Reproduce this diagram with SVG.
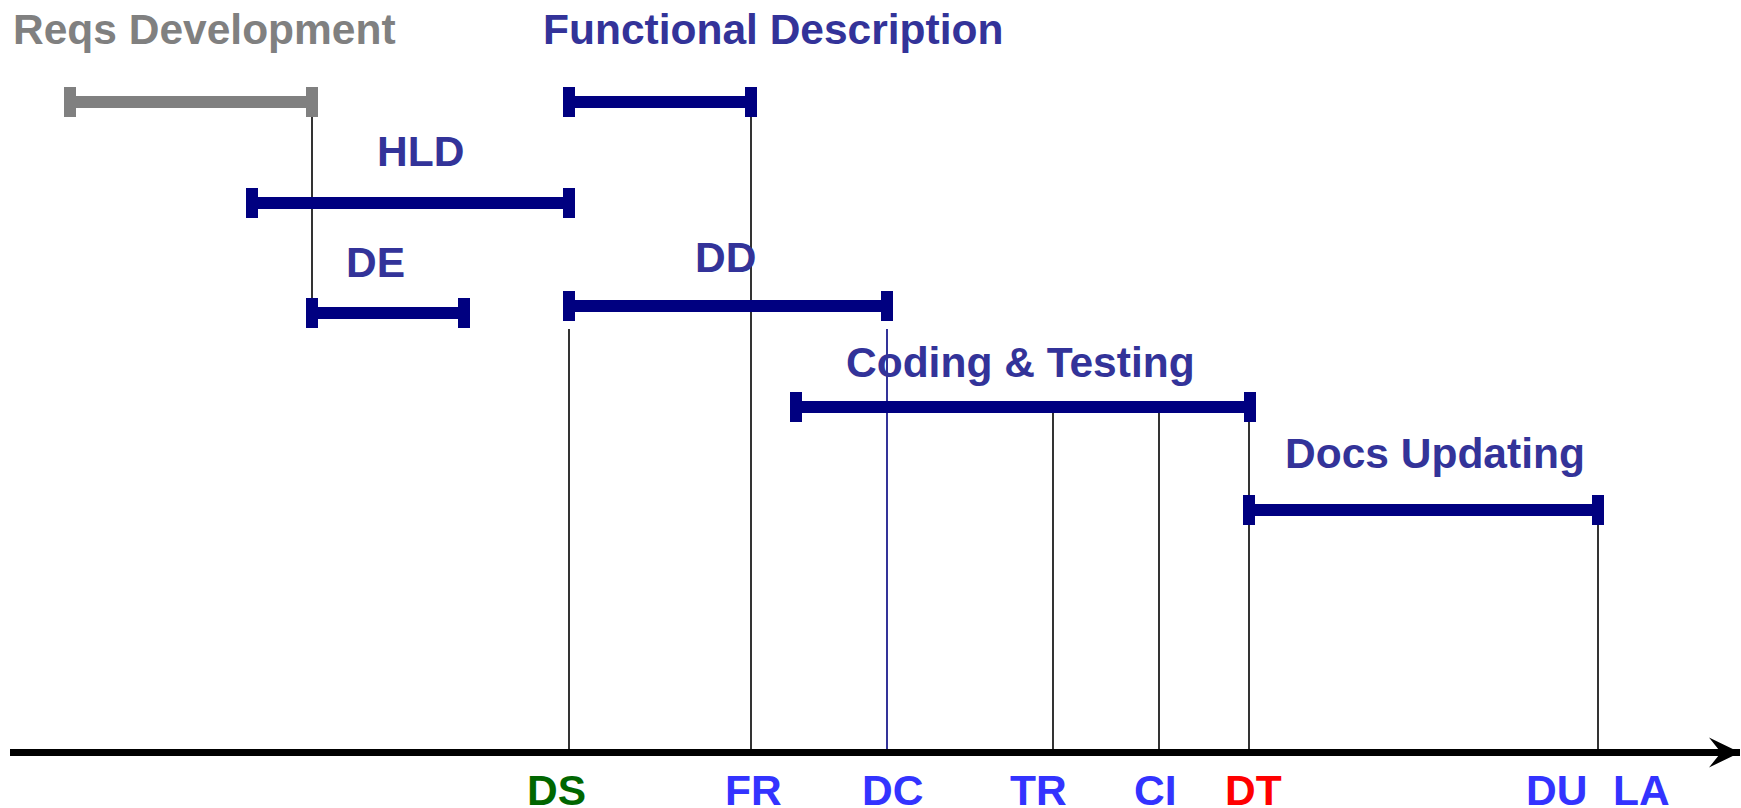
<svg xmlns="http://www.w3.org/2000/svg" width="1741" height="808" viewBox="0 0 1741 808">
<style>
text{font-family:"Liberation Sans",Arial,sans-serif;font-weight:bold;font-size:42.5px}
.lbl{fill:#333399}
.ax{fill:#3333FF}
.bar{fill:#000080}
.gray{fill:#808080}
.vl{stroke:#000;stroke-width:1.6;fill:none}
</style>
<defs>
<marker id="arr" markerUnits="userSpaceOnUse" markerWidth="32" markerHeight="32" refX="31" refY="16" orient="auto" viewBox="0 0 32 32">
<path d="M31,16 L0,1 L12,16 L0,31 Z" fill="#000"/>
</marker>
</defs>
<rect width="1741" height="808" fill="#fff"/>

<g id="connectors">
<line class="vl" x1="312" y1="117" x2="312" y2="313"/>
<line class="vl" x1="569" y1="329" x2="569" y2="752"/>
<line class="vl" x1="751" y1="108" x2="751" y2="752"/>
<line x1="887" y1="329" x2="887" y2="752" stroke="#000080" stroke-width="1.6"/>
<line class="vl" x1="1053" y1="407" x2="1053" y2="752"/>
<line class="vl" x1="1159" y1="407" x2="1159" y2="752"/>
<line class="vl" x1="1249" y1="407" x2="1249" y2="752"/>
<line class="vl" x1="1598" y1="510" x2="1598" y2="752"/>
<line id="axis" x1="10" y1="752.5" x2="1740" y2="752.5" stroke="#000" stroke-width="7" marker-end="url(#arr)"/>
</g>

<g id="reqs">
<rect class="gray" x="70" y="96" width="242" height="12"/>
<rect class="gray" x="64" y="87" width="12" height="30"/>
<rect class="gray" x="306" y="87" width="12" height="30"/>
<text x="13" y="44" fill="#808080">Reqs Development</text>
</g>

<g id="fd">
<rect class="bar" x="569" y="96" width="182" height="12"/>
<rect class="bar" x="563" y="87" width="12" height="30"/>
<rect class="bar" x="745" y="87" width="12" height="30"/>
<text class="lbl" x="543" y="44">Functional Description</text>
</g>

<g id="hld">
<rect class="bar" x="252" y="197" width="318" height="12"/>
<rect class="bar" x="246" y="188" width="12" height="30"/>
<rect class="bar" x="563" y="188" width="12" height="30"/>
<text class="lbl" x="377" y="166">HLD</text>
</g>

<g id="de">
<rect class="bar" x="312" y="307" width="152" height="12"/>
<rect class="bar" x="306" y="298" width="12" height="30"/>
<rect class="bar" x="458" y="298" width="12" height="30"/>
<text class="lbl" x="346" y="277">DE</text>
</g>

<g id="dd">
<rect class="bar" x="569" y="300" width="318" height="12"/>
<rect class="bar" x="563" y="291" width="12" height="30"/>
<rect class="bar" x="881" y="291" width="12" height="30"/>
<text class="lbl" x="695" y="272">DD</text>
</g>

<g id="ct">
<rect class="bar" x="796" y="401" width="454" height="12"/>
<rect class="bar" x="790" y="392" width="12" height="30"/>
<rect class="bar" x="1244" y="392" width="12" height="30"/>
<text class="lbl" x="846" y="377">Coding &amp; Testing</text>
</g>

<g id="du">
<rect class="bar" x="1249" y="504" width="349" height="12"/>
<rect class="bar" x="1243" y="495" width="12" height="30"/>
<rect class="bar" x="1592" y="495" width="12" height="30"/>
<text class="lbl" x="1285" y="468">Docs Updating</text>
</g>

<g id="axis-labels">
<text id="DS" x="527" y="805" fill="#006600">DS</text>
<text id="FR" class="ax" x="725" y="805">FR</text>
<text id="DC" class="ax" x="862" y="805">DC</text>
<text id="TR" class="ax" x="1010" y="805">TR</text>
<text id="CI" class="ax" x="1134" y="805">CI</text>
<text id="DT" x="1225" y="805" fill="#FF0000">DT</text>
<text id="DU" class="ax" x="1526" y="805">DU</text>
<text id="LA" class="ax" x="1613" y="805">LA</text>
</g>
</svg>
